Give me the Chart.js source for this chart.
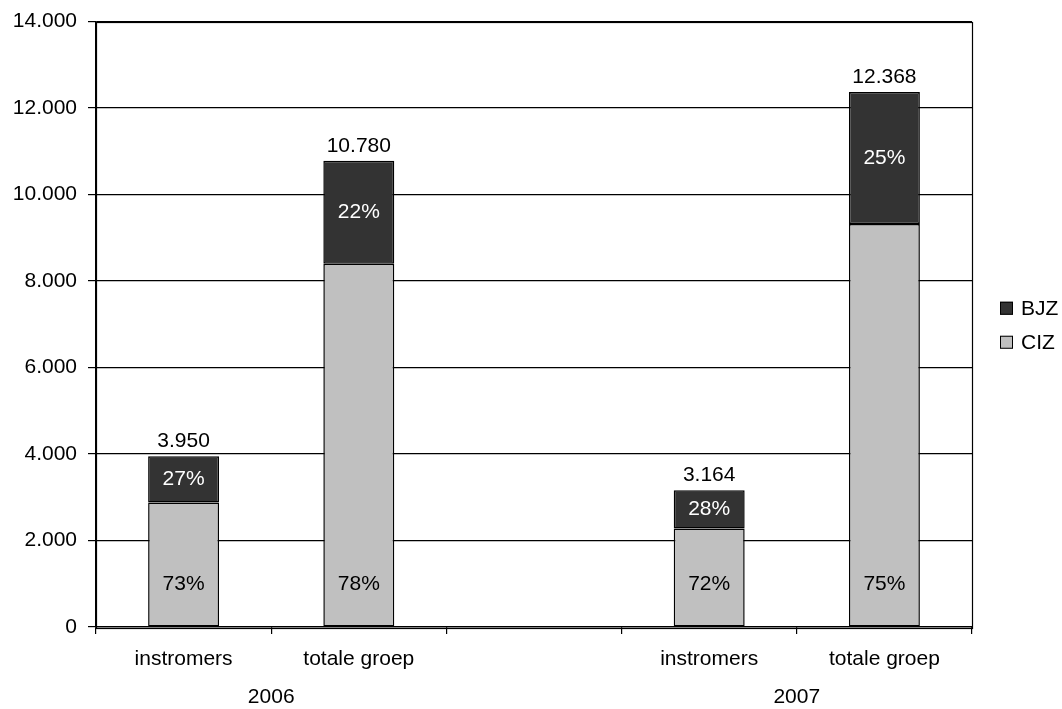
<!DOCTYPE html>
<html>
<head>
<meta charset="utf-8">
<script src="https://cdn.jsdelivr.net/npm/chart.js@4/dist/chart.umd.min.js"></script>
<style>
  html, body { margin: 0; padding: 0; background: #ffffff; }
  #wrap { width: 1062px; height: 709px; position: relative; }
</style>
</head>
<body>
<div id="wrap"><canvas id="c" width="1062" height="709"></canvas></div>
<script>
// ---- data ----
const categories = ['instromers', 'totale groep', '', 'instromers', 'totale groep'];
const yearLabels = ['2006', '2007'];
const yearFirstIndex = [0, 3];
const yearLastIndex = [1, 4];
const seriesNames = ['CIZ', 'BJZ'];
const cizValues = [2880, 8400, null, 2280, 9320];
const bjzValues = [1070, 2380, null, 884, 3048];
const yTickMax = 14000;
const yTickStep = 2000;

const FONT = '"Liberation Sans", Arial, sans-serif';
const FS = 21;

function fmt(v) {
  return String(Math.round(v)).replace(/\B(?=(\d{3})+(?!\d))/g, '.');
}

const labelPlugin = {
  id: 'labels',
  afterDatasetsDraw(chart) {
    const ctx = chart.ctx;
    const metaC = chart.getDatasetMeta(0);
    const metaB = chart.getDatasetMeta(1);
    ctx.save();
    ctx.font = FS + 'px ' + FONT;
    ctx.textAlign = 'center';
    for (let i = 0; i < categories.length; i++) {
      const c = cizValues[i], b = bjzValues[i];
      if (c == null || b == null) continue;
      const total = c + b;
      const barC = metaC.data[i], barB = metaB.data[i];
      ctx.fillStyle = '#000000';
      ctx.textBaseline = 'middle';
      ctx.fillText(Math.round(c / total * 100) + '%', barC.x, barC.base - 42);
      ctx.fillStyle = '#ffffff';
      ctx.fillText(Math.round(b / total * 100) + '%', barB.x, (barB.y + barB.base) / 2);
      ctx.fillStyle = '#000000';
      ctx.textBaseline = 'alphabetic';
      ctx.fillText(fmt(total), barB.x, barB.y - 9);
    }
    ctx.restore();
  },
  afterDraw(chart) {
    const ctx = chart.ctx;
    const ca = chart.chartArea;
    const xs = chart.scales.x;
    ctx.save();
    ctx.strokeStyle = '#000000';
    ctx.lineWidth = 1.2;
    ctx.strokeRect(Math.round(ca.left) + 0.5, Math.round(ca.top) + 0.5,
                   Math.round(ca.right - ca.left), Math.round(ca.bottom - ca.top));
    ctx.lineWidth = 1;
    ctx.font = FS + 'px ' + FONT;
    ctx.fillStyle = '#000000';
    ctx.textAlign = 'center';
    ctx.textBaseline = 'middle';
    for (let g = 0; g < yearLabels.length; g++) {
      const x = (xs.getPixelForValue(yearFirstIndex[g]) + xs.getPixelForValue(yearLastIndex[g])) / 2;
      ctx.fillText(yearLabels[g], x, ca.bottom + 70);
    }
    const items = chart.data.datasets.slice().reverse();
    const midY = (ca.top + ca.bottom) / 2;
    items.forEach((ds, k) => {
      const cy = midY - 16 + k * 34;
      const bx = ca.right + 28;
      ctx.fillStyle = ds.backgroundColor;
      ctx.fillRect(bx, cy - 6.5, 13, 13);
      ctx.strokeStyle = '#000000';
      ctx.strokeRect(bx + 0.5, cy - 6, 12, 12);
      ctx.fillStyle = '#000000';
      ctx.textAlign = 'left';
      ctx.fillText(ds.label, bx + 21, cy + 1);
    });
    ctx.restore();
  }
};

new Chart(document.getElementById('c'), {
  type: 'bar',
  data: {
    labels: categories,
    datasets: [
      { label: seriesNames[0], data: cizValues, backgroundColor: '#C0C0C0', borderColor: '#000000', borderWidth: 1.5, borderSkipped: false },
      { label: seriesNames[1], data: bjzValues, backgroundColor: '#333333', borderColor: '#000000', borderWidth: 1.5, borderSkipped: false }
    ]
  },
  options: {
    responsive: false,
    animation: false,
    devicePixelRatio: 1,
    layout: { padding: { top: 18, right: 90, left: 0, bottom: 0 } },
    datasets: { bar: { categoryPercentage: 1.0, barPercentage: 0.405 } },
    plugins: { legend: { display: false }, tooltip: { enabled: false } },
    scales: {
      x: {
        stacked: true,
        offset: true,
        afterFit(s) { s.height = 82; },
        grid: { display: true, offset: true, drawOnChartArea: false, drawTicks: true, tickLength: 7, color: '#000000', lineWidth: 1.2 },
        border: { display: true, color: '#000000', width: 1.2 },
        ticks: { color: '#000000', font: { family: FONT, size: FS }, padding: 13, maxRotation: 0, autoSkip: false }
      },
      y: {
        stacked: true,
        min: 0,
        max: yTickMax,
        afterFit(s) { s.width = 96; },
        grid: { display: true, drawOnChartArea: true, drawTicks: true, tickLength: 8, color: '#000000', lineWidth: 1.2 },
        border: { display: true, color: '#000000', width: 1.2 },
        ticks: { stepSize: yTickStep, color: '#000000', font: { family: FONT, size: FS, lineHeight: 1 }, padding: 11, callback: (v) => fmt(v) }
      }
    }
  },
  plugins: [labelPlugin]
});
</script>
</body>
</html>
